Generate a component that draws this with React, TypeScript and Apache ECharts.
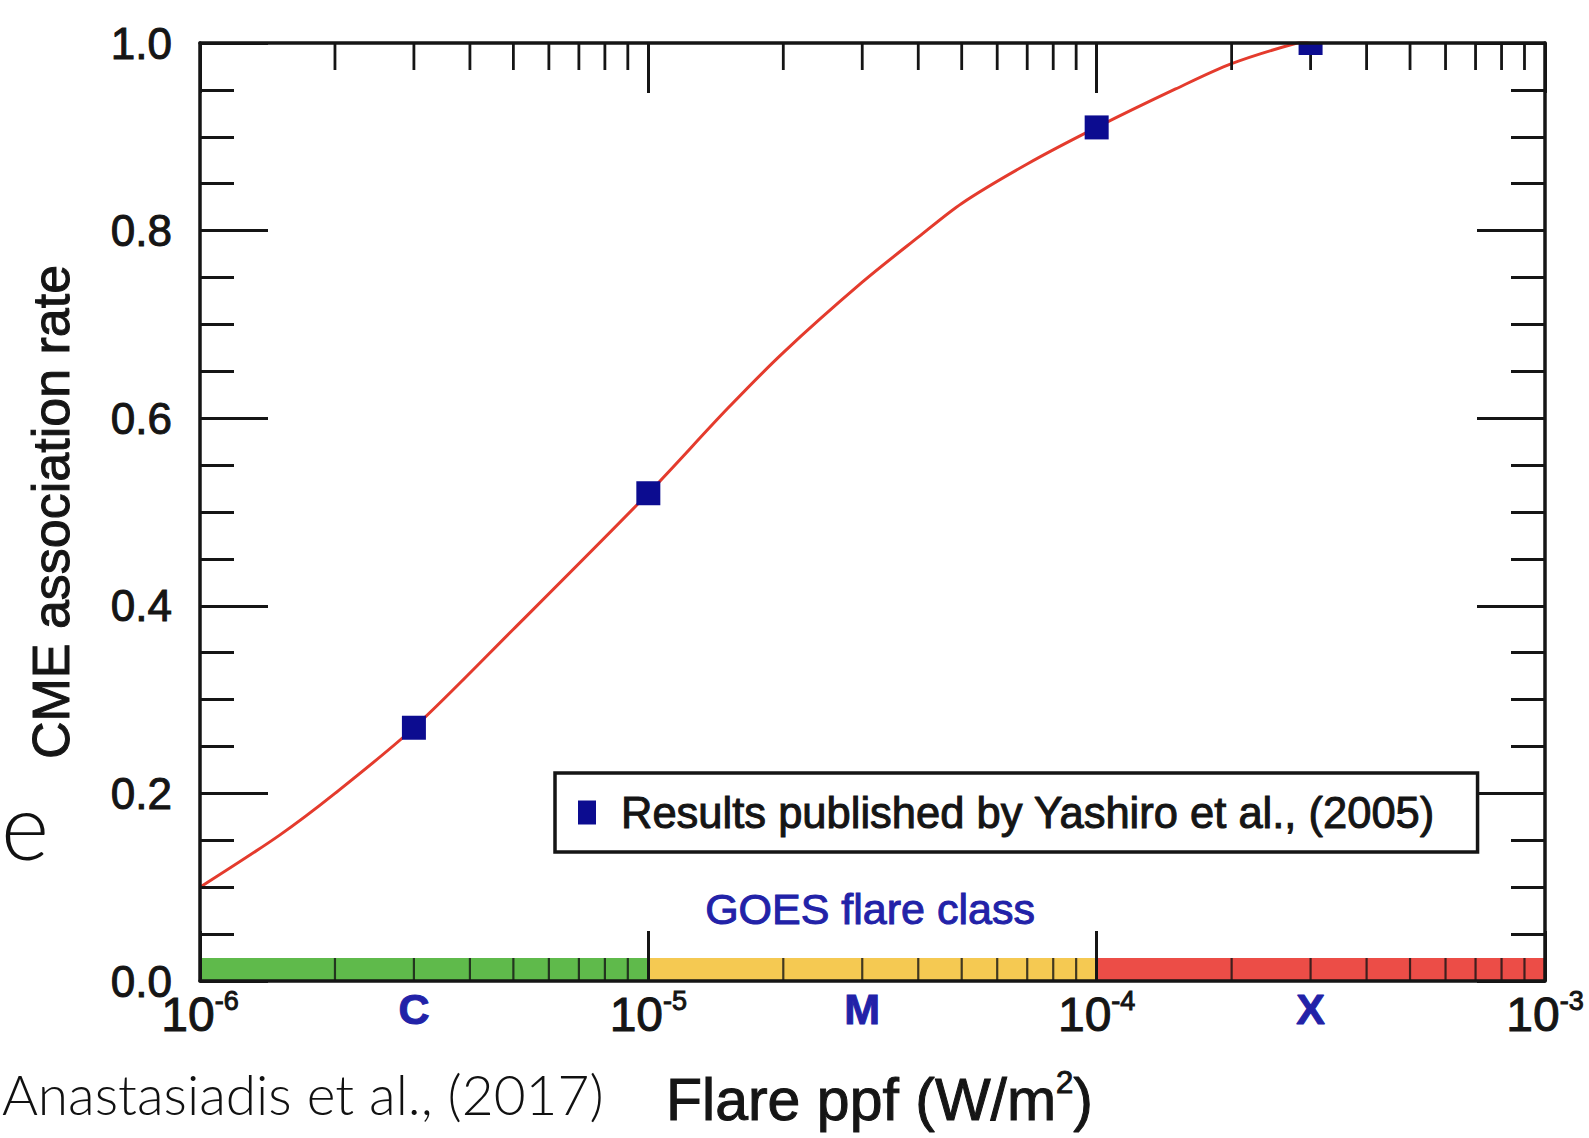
import React, { useEffect, useRef } from 'react';
import * as echarts from 'echarts';

// ---- data ----
const curveX = [1e-6, 1.5e-6, 2e-6, 3e-6, 5e-6, 1e-5, 1.5e-5, 2e-5, 3e-5, 4e-5, 5e-5, 7e-5, 1e-4, 1.5e-4, 2e-4, 2.8e-4, 3.5e-4];
const curveY = [0.10, 0.155, 0.20, 0.27, 0.375, 0.52, 0.61, 0.67, 0.745, 0.793, 0.829, 0.871, 0.91, 0.951, 0.978, 1.0, 1.01];

const obsX = [3e-6, 1e-5, 1e-4, 3e-4];
const obsY = [0.27, 0.52, 0.91, 1.0];

const classNames = ['C', 'M', 'X'];
const classStart = [1e-6, 1e-5, 1e-4];
const classEnd = [1e-5, 1e-4, 1e-3];
const classLabelX = [3e-6, 3e-5, 3e-4];
const classColors = ['#5fba4b', '#f5c952', '#ec4d47'];

const decades = [1e-6, 1e-5, 1e-4];
const minorMultipliers = [2, 3, 4, 5, 6, 7, 8, 9];

const LEGEND_NAME = 'Results published by Yashiro et al., (2005)';
const X_NAME = 'Flare ppf (W/m{s|2})';
const Y_NAME = 'CME association rate';
const GOES_TEXT = 'GOES flare class';
const CITATION = 'Anastasiadis et al., (2017)';
const SLIDE_LETTER = 'e';

// ---- styles ----
const FONT = "'Liberation Sans', Arial, Helvetica, sans-serif";
const THIN_FONT = "Lato, 'Open Sans', 'Liberation Sans', sans-serif";
const INK = '#151515';
const BLUE_TEXT = '#2222a8';
const MARK = '#0c0c90';
const RED = '#e43b2d';

export default function App() {
  const ref = useRef<HTMLDivElement | null>(null);

  useEffect(() => {
    if (!ref.current) return;
    const chart = echarts.init(ref.current, undefined, { renderer: 'svg' });

    const minorTicks: number[] = [];
    decades.forEach((d) => minorMultipliers.forEach((m) => minorTicks.push(m * d)));

    const inkText = { textBorderColor: INK, textBorderWidth: 1 };

    const yAxisBase = {
      type: 'value',
      min: 0,
      max: 1,
      interval: 0.2,
      z: 10,
      axisLine: { show: true, onZero: false, lineStyle: { color: INK, width: 3.5 } },
      axisTick: { show: true, inside: true, length: 68, lineStyle: { color: INK, width: 3 } },
      minorTick: { show: true, splitNumber: 4, length: 34, lineStyle: { color: INK, width: 3 } },
      splitLine: { show: false },
      minorSplitLine: { show: false },
    };

    const xAxisBase = {
      type: 'log',
      logBase: 10,
      min: 1e-6,
      max: 1e-3,
      z: 10,
      axisLine: { show: true, onZero: false, lineStyle: { color: INK, width: 3.5 } },
      axisTick: { show: true, inside: true, length: 50, lineStyle: { color: INK, width: 3 } },
      minorTick: { show: false },
      splitLine: { show: false },
    };

    const option: any = {
      animation: false,
      backgroundColor: '#ffffff',
      grid: { left: 200, top: 43, width: 1345, height: 940, containLabel: false },
      xAxis: [
        {
          ...xAxisBase,
          position: 'bottom',
          axisLabel: {
            show: true,
            margin: 6,
            formatter: (v: number) => `{b|10}{s|${Math.round(Math.log10(v))}}`,
            rich: {
              b: { fontSize: 48, fontFamily: FONT, color: INK, lineHeight: 54, ...inkText },
              s: { fontSize: 27, fontFamily: FONT, color: INK, lineHeight: 54, verticalAlign: 'top', ...inkText },
            },
          },
          name: X_NAME,
          nameLocation: 'middle',
          nameGap: 86,
          nameTextStyle: {
            fontSize: 59,
            fontFamily: FONT,
            color: INK,
            lineHeight: 66,
            padding: [0, 0, 0, 14],
            ...inkText,
            rich: {
              s: { fontSize: 31, fontFamily: FONT, color: INK, lineHeight: 66, verticalAlign: 'top', ...inkText },
            },
          },
        },
        {
          ...xAxisBase,
          position: 'top',
          axisLabel: { show: false },
        },
      ],
      yAxis: [
        {
          ...yAxisBase,
          position: 'left',
          axisLabel: {
            show: true,
            margin: 28,
            fontSize: 44,
            fontFamily: FONT,
            color: INK,
            ...inkText,
            formatter: (v: number) => v.toFixed(1),
          },
          name: Y_NAME,
          nameLocation: 'middle',
          nameGap: 120,
          nameTextStyle: { fontSize: 52, fontFamily: FONT, color: INK, lineHeight: 58, ...inkText },
        },
        {
          ...yAxisBase,
          position: 'right',
          axisLabel: { show: false },
        },
      ],
      legend: {
        show: true,
        left: 555,
        top: 773,
        orient: 'horizontal',
        selectedMode: false,
        data: [{ name: LEGEND_NAME, icon: 'rect' }],
        itemWidth: 18,
        itemHeight: 24,
        padding: [17, 42, 17, 23],
        borderColor: INK,
        borderWidth: 3.5,
        borderRadius: 0,
        backgroundColor: '#ffffff',
        textStyle: {
          fontSize: 43.5,
          fontFamily: FONT,
          color: INK,
          padding: [0, 0, 0, 20],
          ...inkText,
        },
      },
      graphic: [
        {
          type: 'text',
          x: 870,
          y: 909,
          rotation: 0,
          silent: true,
          style: {
            text: GOES_TEXT,
            fill: BLUE_TEXT,
            stroke: BLUE_TEXT,
            lineWidth: 1,
            fontSize: 43,
            fontFamily: FONT,
            align: 'center',
            verticalAlign: 'middle',
            textAlign: 'center',
            textVerticalAlign: 'middle',
          },
        },
        {
          type: 'text',
          x: 1,
          y: 824,
          rotation: 0,
          silent: true,
          style: {
            text: SLIDE_LETTER,
            fill: '#111111',
            fontSize: 92,
            fontWeight: 300,
            fontFamily: THIN_FONT,
            align: 'left',
            verticalAlign: 'middle',
            textAlign: 'left',
            textVerticalAlign: 'middle',
          },
        },
        {
          type: 'text',
          x: 2,
          y: 1094,
          rotation: 0,
          silent: true,
          style: {
            text: CITATION,
            fill: '#111111',
            fontSize: 55,
            fontWeight: 300,
            fontFamily: THIN_FONT,
            align: 'left',
            verticalAlign: 'middle',
            textAlign: 'left',
            textVerticalAlign: 'middle',
          },
        },
      ],
      series: [
        {
          type: 'custom',
          name: 'classBands',
          z: 1,
          silent: true,
          data: classStart.map((s, i) => [s, classEnd[i], 0]),
          encode: { x: [0, 1], y: 2 },
          renderItem: (params: any, api: any) => {
            const p0 = api.coord([api.value(0), 0]);
            const p1 = api.coord([api.value(1), 0]);
            return {
              type: 'rect',
              shape: { x: p0[0], y: p0[1] - 23, width: p1[0] - p0[0], height: 23 },
              style: { fill: classColors[params.dataIndex] },
            };
          },
        },
        {
          type: 'custom',
          name: 'minorTicks',
          z: 4,
          silent: true,
          data: minorTicks.map((x) => [x, 0]),
          encode: { x: 0, y: 1 },
          renderItem: (params: any, api: any) => {
            const x = api.value(0);
            const top = api.coord([x, 1]);
            const bot = api.coord([x, 0]);
            return {
              type: 'group',
              children: [
                {
                  type: 'line',
                  shape: { x1: top[0], y1: top[1], x2: top[0], y2: top[1] + 27 },
                  style: { stroke: INK, lineWidth: 2.8 },
                },
                {
                  type: 'line',
                  shape: { x1: bot[0], y1: bot[1], x2: bot[0], y2: bot[1] - 23 },
                  style: { stroke: 'rgba(20,20,20,0.8)', lineWidth: 2.2 },
                },
              ],
            };
          },
        },
        {
          type: 'line',
          name: 'fit',
          data: curveX.map((x, i) => [x, curveY[i]]),
          smooth: 0.3,
          showSymbol: false,
          symbol: 'none',
          clip: true,
          z: 3,
          lineStyle: { color: RED, width: 3 },
          silent: true,
        },
        {
          type: 'custom',
          name: LEGEND_NAME,
          z: 5,
          clip: true,
          itemStyle: { color: MARK },
          data: obsX.map((x, i) => [x, obsY[i]]),
          encode: { x: 0, y: 1 },
          renderItem: (params: any, api: any) => {
            const p = api.coord([api.value(0), api.value(1)]);
            return {
              type: 'rect',
              shape: { x: p[0] - 12, y: p[1] - 12, width: 24, height: 24 },
              style: { fill: MARK },
            };
          },
        },
        {
          type: 'scatter',
          name: 'classLabels',
          z: 6,
          silent: true,
          clip: false,
          symbolSize: 1,
          itemStyle: { color: 'rgba(0,0,0,0)' },
          data: classLabelX.map((x, i) => ({ value: [x, 0], name: classNames[i] })),
          label: {
            show: true,
            position: 'bottom',
            distance: 6,
            formatter: '{b}',
            fontSize: 43,
            fontWeight: 'bold',
            fontFamily: FONT,
            color: BLUE_TEXT,
            textBorderColor: BLUE_TEXT,
            textBorderWidth: 1,
            opacity: 1,
          },
        },
      ],
    };

    chart.setOption(option);
    return () => {
      chart.dispose();
    };
  }, []);

  return (
    <div
      ref={ref}
      style={{ position: 'fixed', left: 0, top: 0, width: 1589, height: 1138, background: '#fff' }}
    />
  );
}
